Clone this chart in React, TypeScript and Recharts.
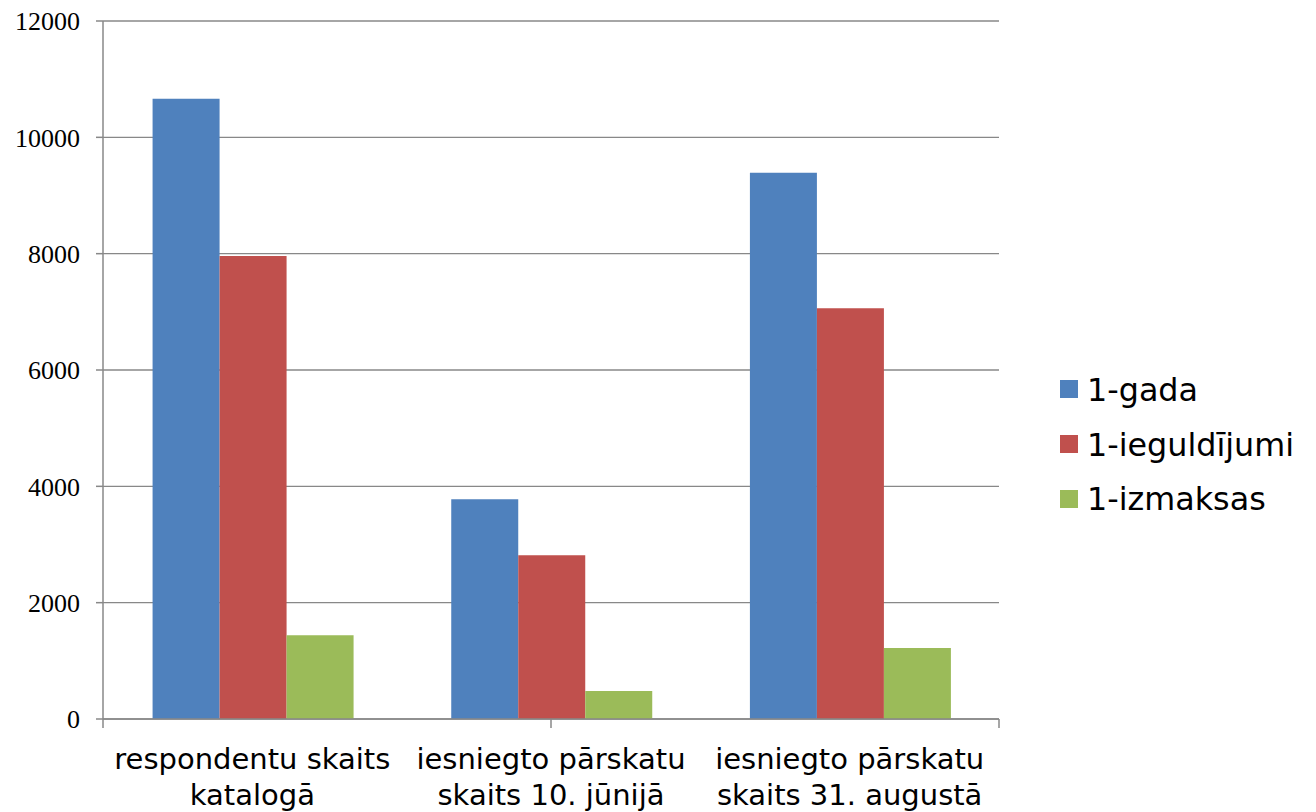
import { BarChart, Bar, XAxis, YAxis, CartesianGrid, Legend } from 'recharts';

const categories = [
  'respondentu skaits\nkatalogā',
  'iesniegto pārskatu\nskaits 10. jūnijā',
  'iesniegto pārskatu\nskaits 31. augustā',
];
const gada = [10665, 3780, 9390];
const ieguldijumi = [7960, 2815, 7060];
const izmaksas = [1440, 480, 1220];
const yTicks = [0, 2000, 4000, 6000, 8000, 10000, 12000];
const edgeTicks = [0, 1, 2, 3];

const series = [
  { key: 'gada', name: '1-gada', color: '#4F81BD' },
  { key: 'ieguldijumi', name: '1-ieguldījumi', color: '#C0504D' },
  { key: 'izmaksas', name: '1-izmaksas', color: '#9BBB59' },
];

const data = categories.map((name, i) => ({
  name,
  gada: gada[i],
  ieguldijumi: ieguldijumi[i],
  izmaksas: izmaksas[i],
}));

const AXIS = '#888888';
const SANS = 'Verdana, "DejaVu Sans", sans-serif';

function CategoryTick({ x, y, payload }: any) {
  const lines = String(payload.value).split('\n');
  return (
    <text x={x} y={y} textAnchor="middle" fontFamily={SANS} fontSize={29} fill="#000">
      {lines.map((l, i) => (
        <tspan key={i} x={x} y={y + 41 + i * 36}>{l}</tspan>
      ))}
    </text>
  );
}

function LegendBox({ payload }: any) {
  return (
    <div style={{ fontFamily: SANS, fontSize: 31.8, color: '#000' }}>
      {(payload || []).map((p: any, i: number) => (
        <div key={i} style={{ display: 'flex', alignItems: 'center', height: 54.7, whiteSpace: 'nowrap' }}>
          <span style={{ width: 18, height: 18, background: p.color, display: 'inline-block', marginRight: 9 }} />
          <span>{p.value}</span>
        </div>
      ))}
    </div>
  );
}

export default function App() {
  return (
    <div style={{ position: 'absolute', left: 0, top: 0, width: 1316, height: 812, background: '#fff' }}>
      <BarChart
        width={1316}
        height={812}
        data={data}
        margin={{ top: 21, right: 317, bottom: 0, left: 0 }}
        barGap={0}
        barCategoryGap="16.6%"
      >
        <CartesianGrid xAxisId="b" vertical={false} stroke={AXIS} strokeWidth={1.3} />
        <XAxis
          xAxisId="b"
          dataKey="name"
          axisLine={false}
          tickLine={false}
          height={92}
          interval={0}
          tick={<CategoryTick />}
        />
        <XAxis
          xAxisId="a"
          type="number"
          domain={[0, 3]}
          ticks={edgeTicks}
          tickFormatter={() => ''}
          tick={{ fill: 'none' }}
          height={1}
          tickSize={9}
          stroke={AXIS}
          strokeWidth={1.5}
        />
        <YAxis
          domain={[0, 12000]}
          ticks={yTicks}
          width={103}
          tickSize={7}
          tickMargin={16}
          stroke={AXIS}
          strokeWidth={1.5}
          tick={{ fontFamily: '"Liberation Serif", "Times New Roman", serif', fontSize: 26, fill: '#000' }}
        />
        <Legend
          layout="vertical"
          align="center"
          verticalAlign="middle"
          content={<LegendBox />}
          wrapperStyle={{ left: 1060, top: 362, width: 256 }}
        />
        {series.map((s) => (
          <Bar key={s.key} xAxisId="b" dataKey={s.key} name={s.name} fill={s.color} isAnimationActive={false} />
        ))}
      </BarChart>
    </div>
  );
}
